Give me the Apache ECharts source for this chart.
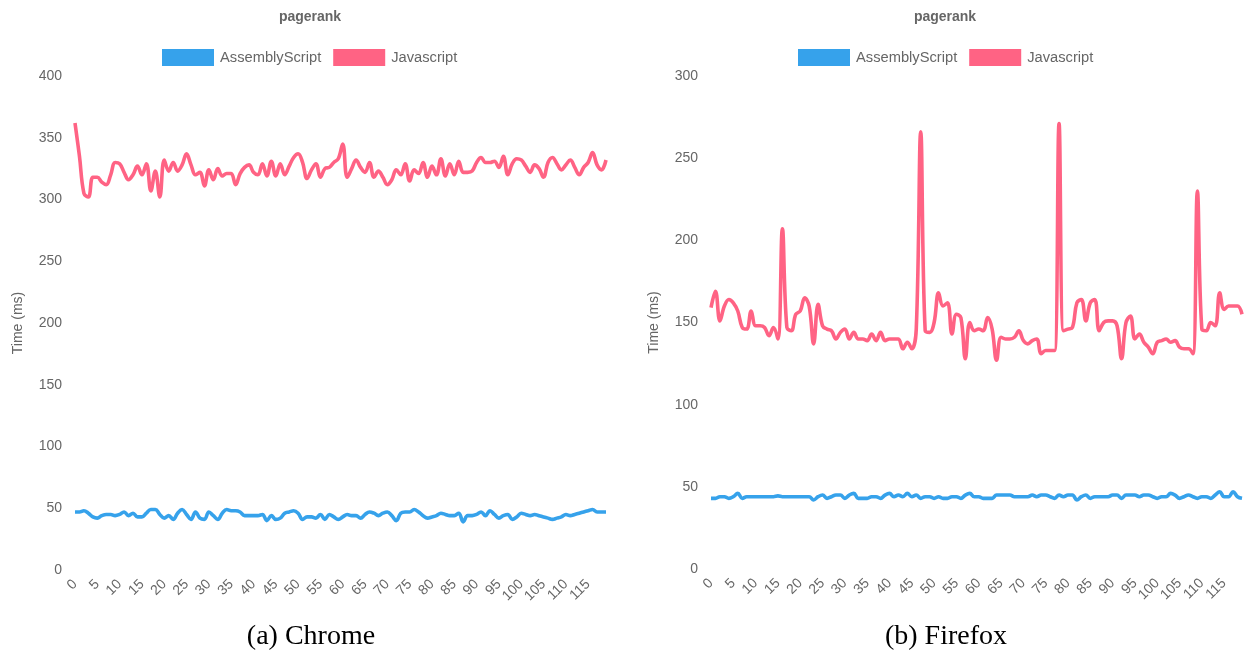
<!DOCTYPE html>
<html>
<head>
<meta charset="utf-8">
<script src="https://cdn.jsdelivr.net/npm/echarts@6/dist/echarts.min.js"></script>
<style>
html,body{margin:0;padding:0;background:#fff;}
#chart{width:1247px;height:661px;}
</style>
</head>
<body>
<div id="chart"></div>
<script>
// x categories: run index 0..119
const categories = Array.from({length: 120}, (_, i) => String(i));

const seriesNames = ['AssemblyScript', 'Javascript'];
const chartTitle = 'pagerank';
const yAxisTitle = 'Time (ms)';
const captions = ['(a) Chrome', '(b) Firefox'];

const chromeAssemblyScript = [
47,47,48,46,43,42,44,45,45,44,45,47,44,46,43,43,46,49,49,45,
42,44,41,46,49,45,41,47,42,41,47,44,41,46,49,48,48,47,44,44,
44,44,45,40,44,41,42,46,47,48,46,41,43,43,42,45,41,45,43,41,
43,45,44,44,42,45,47,46,44,46,47,44,40,46,47,47,49,47,44,42,
43,44,46,45,44,44,46,39,44,44,45,47,44,48,45,42,44,45,41,43,
46,45,44,45,44,43,42,41,42,43,45,44,45,46,47,48,49,47,47,47
];
const chromeJavascript = [
362,335,305,302,318,318,314,312,320,330,329,322,316,320,327,320,329,307,323,302,
332,323,330,323,328,337,328,320,322,311,324,316,325,319,321,321,312,321,326,328,
322,320,329,319,331,319,329,320,327,334,337,330,317,324,329,318,325,326,330,333,
345,318,325,332,326,322,330,318,323,318,312,316,324,320,329,315,324,321,330,318,
327,320,333,319,329,320,331,322,322,323,330,334,330,330,331,326,335,320,329,333,
332,327,322,328,325,318,330,334,329,324,328,332,326,320,326,330,338,328,324,332
];
const firefoxAssemblyScript = [
43,43,44,44,43,44,46,43,44,44,44,44,44,44,44,44.5,44,44,44,44,
44,44,44,42,44,45,43,44,45,45,43,45,46,43,43,43,44,44,43,45,
46,44,45,44,46,44,45,43,44,44,43,44,43,43,44,44,43,45,46,44,
44,43,43,43,45,45,45,45,44,44,44,44,45,44,45,45,44,43,45,44,
45,45,42,44,45,43,44,44,44,44,45,45,43,45,45,45,44,45,45,44,
43,44,44,46,45,43,44,45,44,43,44,44,43,45,47,44,44,47,44,43
];
const firefoxJavascript = [
159,169,151,160,164,162,157,147,146,157,148,148,147,142,147,140,207,147,145,155,
157,165,160,137,161,148,146,145,140,144,146,140,144,140,140,139,143,139,144,139,
140,140,140,134,138,134,146,266,145,144,150,168,160,162,143,155,153,128,150,145,
146,145,153,146,127,141,140,140,141,145,139,137,139,140,131,133,133,133,271,145,
146,147,162,164,151,162,164,145,150,151,151,148,128,150,154,140,143,138,135,131,
138,139,140,138,139,135,134,134,131,230,146,145,150,148,168,158,160,160,160,155
];
const chromeYTicks = {min: 0, max: 400, interval: 50};
const firefoxYTicks = {min: 0, max: 300, interval: 50};

const BLUE = '#36a2eb';
const PINK = '#ff6384';
const GREY = '#666';
const FONT = '"Liberation Sans", Arial, Helvetica, sans-serif';

function xAxis(gridIndex) {
  return {
    type: 'category', gridIndex, data: categories, boundaryGap: false,
    axisLine: {show: false}, axisTick: {show: false}, splitLine: {show: false},
    axisLabel: {interval: 4, rotate: 45, color: GREY, fontSize: 14, fontFamily: FONT, margin: 12}
  };
}
function yAxis(gridIndex, t) {
  return {
    type: 'value', gridIndex, min: t.min, max: t.max, interval: t.interval,
    axisLine: {show: false}, axisTick: {show: false}, splitLine: {show: false},
    axisLabel: {color: GREY, fontSize: 14, fontFamily: FONT, margin: 13},
    name: yAxisTitle, nameLocation: 'middle', nameGap: 50,
    nameTextStyle: {color: GREY, fontSize: 14, fontFamily: FONT}
  };
}
function line(name, data, color, idx) {
  return {
    name, type: 'line', data, xAxisIndex: idx, yAxisIndex: idx,
    smooth: 0.4, showSymbol: false, symbol: 'none',
    lineStyle: {color, width: 3.6}, itemStyle: {color},
    emphasis: {disabled: true}, animation: false
  };
}
function legend(left) {
  return {
    left, top: 49, padding: 0, icon: 'rect', itemWidth: 52, itemHeight: 17, itemGap: 12,
    data: seriesNames, selectedMode: false,
    textStyle: {color: GREY, fontSize: 14.7, fontFamily: FONT, padding: [0, 0, 0, 1]}
  };
}

const chart = echarts.init(document.getElementById('chart'), null, {renderer: 'canvas'});
chart.setOption({
  backgroundColor: '#fff',
  animation: false,
  grid: [
    {left: 75, top: 76, width: 531, height: 494},
    {left: 711, top: 76, width: 531, height: 493}
  ],
  legend: [legend(162), legend(798)],
  xAxis: [xAxis(0), xAxis(1)],
  yAxis: [yAxis(0, chromeYTicks), yAxis(1, firefoxYTicks)],
  series: [
    line(seriesNames[0], chromeAssemblyScript, BLUE, 0),
    line(seriesNames[1], chromeJavascript, PINK, 0),
    line(seriesNames[0], firefoxAssemblyScript, BLUE, 1),
    line(seriesNames[1], firefoxJavascript, PINK, 1)
  ],
  graphic: [
    {type: 'text', x: 310, y: 17, style: {text: chartTitle, fill: GREY, font: 'bold 14px ' + FONT, textAlign: 'center', textVerticalAlign: 'middle'}},
    {type: 'text', x: 945, y: 17, style: {text: chartTitle, fill: GREY, font: 'bold 14px ' + FONT, textAlign: 'center', textVerticalAlign: 'middle'}},
    {type: 'text', x: 311, y: 637, style: {text: captions[0], fill: '#000', font: '28px "Liberation Serif", "DejaVu Serif", serif', textAlign: 'center', textVerticalAlign: 'middle'}},
    {type: 'text', x: 946, y: 637, style: {text: captions[1], fill: '#000', font: '28px "Liberation Serif", "DejaVu Serif", serif', textAlign: 'center', textVerticalAlign: 'middle'}}
  ]
});
</script>
</body>
</html>
